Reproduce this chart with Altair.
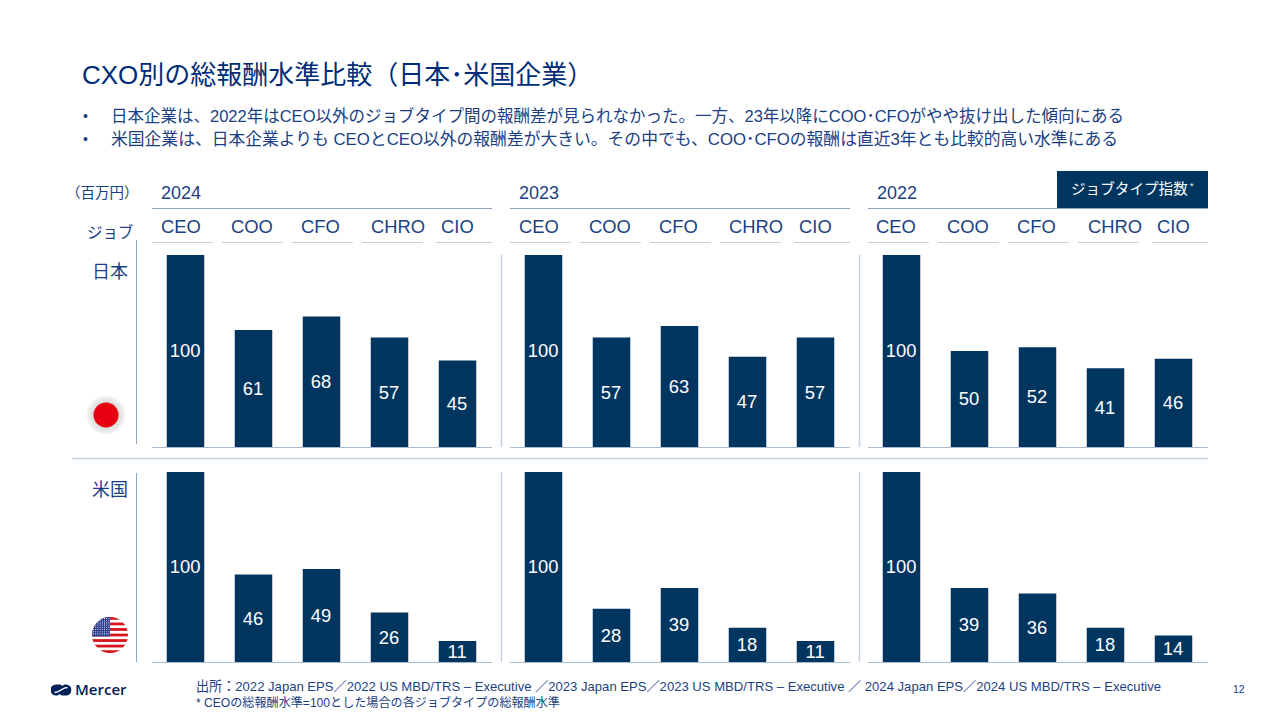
import urllib.parse
import altair as alt
import pandas as pd

years = ["2024", "2023", "2022"]
jobs = ["CEO", "COO", "CFO", "CHRO", "CIO"]
japan_2024 = [100, 61, 68, 57, 45]
japan_2023 = [100, 57, 63, 47, 57]
japan_2022 = [100, 50, 52, 41, 46]
us_2024 = [100, 46, 49, 26, 11]
us_2023 = [100, 28, 39, 18, 11]
us_2022 = [100, 39, 36, 18, 14]

title_text = "CXO別の総報酬水準比較（日本･米国企業）"
bullet_1 = "日本企業は、2022年はCEO以外のジョブタイプ間の報酬差が見られなかった。一方、23年以降にCOO･CFOがやや抜け出した傾向にある"
bullet_2 = "米国企業は、日本企業よりも CEOとCEO以外の報酬差が大きい。その中でも、COO･CFOの報酬は直近3年とも比較的高い水準にある"
foot_1 = "出所：2022 Japan EPS／2022 US MBD/TRS  – Executive ／2023 Japan EPS／2023 US MBD/TRS  – Executive ／ 2024 Japan EPS／2024 US MBD/TRS  – Executive"
foot_2 = "* CEOの総報酬水準=100とした場合の各ジョブタイプの総報酬水準"

NAVY = "#00355f"
INK = "#1b3f82"
RULE = "#8ba5c2"
LIGHT = "#c4d2e0"
BASE = "#a9bccf"
FONT = "Liberation Sans, Noto Sans CJK JP, sans-serif"
OFF = 8  # page margin: positions below are page pixels


def label(s, x, y, size=16, color=INK, align="left", font=FONT, weight="normal"):
    return alt.Chart(pd.DataFrame({"t": [s]})).mark_text(
        align=align, baseline="middle", fontSize=size, color=color, font=font, fontWeight=weight
    ).encode(x=alt.value(x - OFF), y=alt.value(y - OFF), text="t:N")


def hrule(x1, x2, y, color=RULE, w=1.0):
    return alt.Chart(pd.DataFrame({"a": [0]})).mark_rule(color=color, strokeWidth=w).encode(
        x=alt.value(x1 - OFF), x2=alt.value(x2 - OFF), y=alt.value(y - OFF))


def vrule(x, y1, y2, color=RULE, w=1.0):
    return alt.Chart(pd.DataFrame({"a": [0]})).mark_rule(color=color, strokeWidth=w).encode(
        x=alt.value(x - OFF), y=alt.value(y1 - OFF), y2=alt.value(y2 - OFF))


def svg_image(svg, x, y, w, h):
    uri = "data:image/svg+xml," + urllib.parse.quote(svg)
    return alt.Chart(alt.Data(values=[{"u": uri}])).mark_image(width=w, height=h).encode(
        x=alt.value(x - OFF), y=alt.value(y - OFF), url="u:N")


def panel(values, x0, y_bottom, y_top):
    df = pd.DataFrame({"job": jobs, "value": values})
    x = alt.X("job:N", axis=None, sort=jobs, scale=alt.Scale(
        domain=jobs, range=[x0 - OFF, x0 + 340 - OFF], paddingInner=30 / 68, paddingOuter=15 / 68))
    scale_y = alt.Scale(domain=[0, 100], range=[y_bottom - OFF, y_top - OFF], nice=False)
    bars = alt.Chart(df).mark_bar(color=NAVY, size=37.5).encode(
        x=x, y=alt.Y("value:Q", axis=None, scale=scale_y))
    nums = alt.Chart(df).transform_calculate(mid="datum.value / 2").mark_text(
        color="white", fontSize=18.4, font=FONT, baseline="middle", dy=0.3, dx=-0.4
    ).encode(x=x, y=alt.Y("mid:Q", axis=None, scale=scale_y), text="value:Q")
    return [bars, nums]


layers = []
# title and bullets
layers += [label(title_text, 82, 76, size=26, color="#002c77")]
layers += [label("•", 83, 117, 14), label(bullet_1, 111, 117, 16.5),
           label("•", 83, 140, 14), label(bullet_2, 111, 140, 16.8)]

# header
layers += [label("（百万円）", 66, 194, 14.5), label("ジョブ", 87, 233, 15.5)]
starts = [152, 510, 868]
for yr, s in zip(years, starts):
    layers += [label(yr, s + 9, 194, 18), hrule(s, s + 340, 208.5)]
job_x = {152: [161, 231, 301, 371, 441], 510: [519, 589, 659, 729, 799], 868: [876, 947, 1017, 1088, 1157]}
seg = [(0, 61), (70, 131), (140, 201), (210, 271), (284, 340)]
for s in starts:
    for j, jx, (a, b) in zip(jobs, job_x[s], seg):
        layers += [label(j, jx, 227, 18.4), hrule(s + a, s + b, 242.5, LIGHT, 1.2)]

# job type index badge
badge = pd.DataFrame({"a": [0]})
layers += [alt.Chart(badge).mark_rect(color=NAVY).encode(
    x=alt.value(1057 - OFF), x2=alt.value(1208 - OFF), y=alt.value(171 - OFF), y2=alt.value(208 - OFF))]
layers += [label("ジョブタイプ指数", 1071, 190, 14.6, "white"), label("*", 1190, 186, 9, "white")]

# country labels and axes lines
layers += [label("日本", 92, 272.5, 18), label("米国", 92, 490.5, 18)]
layers += [vrule(136.5, 240, 444), vrule(136.5, 473, 662)]
layers += [vrule(501.5, 255, 447, LIGHT, 1.5), vrule(859.5, 255, 447, LIGHT, 1.5),
           vrule(501.5, 472, 662, LIGHT, 1.5), vrule(859.5, 472, 662, LIGHT, 1.5)]
layers += [hrule(72, 1208, 458.5, LIGHT, 1.5)]
for s in starts:
    layers += [hrule(s, s + 340, 447.5, BASE, 1.2), hrule(s, s + 340, 662.5, BASE, 1.2)]

# bars
for vals, s in zip([japan_2024, japan_2023, japan_2022], [151.5, 509.5, 867.5]):
    layers += panel(vals, s, 447, 255)
for vals, s in zip([us_2024, us_2023, us_2022], [151.5, 509.5, 867.5]):
    layers += panel(vals, s, 662, 472)

# flags
jp_svg = ('<svg xmlns="http://www.w3.org/2000/svg" width="40" height="40" viewBox="0 0 40 40">'
          '<defs><radialGradient id="g"><stop offset="60%" stop-color="#d8d8d8"/><stop offset="100%" stop-color="#f6f6f6"/></radialGradient></defs>'
          '<circle cx="20" cy="20" r="19.5" fill="url(#g)"/><circle cx="20" cy="20" r="12.5" fill="#e60012"/></svg>')
stripes = "".join(f'<rect x="0" y="{i * 36 / 13:.2f}" width="36" height="{36 / 13:.2f}" fill="#d7141a"/>' for i in range(0, 13, 2))
stars = "".join(f'<circle cx="{1.5 + c * 2.2:.1f}" cy="{1.5 + r * 2.2:.1f}" r=".55" fill="#fff"/>' for r in range(8) for c in range(8))
us_svg = ('<svg xmlns="http://www.w3.org/2000/svg" width="36" height="36" viewBox="0 0 36 36">'
          '<defs><clipPath id="c"><circle cx="18" cy="18" r="18"/></clipPath></defs><g clip-path="url(#c)">'
          '<rect width="36" height="36" fill="#fff"/>' + stripes +
          '<rect width="18" height="19.4" fill="#2a3a8c"/>' + stars + '</g></svg>')
layers += [svg_image(jp_svg, 106, 415, 40, 40), svg_image(us_svg, 110, 635, 36, 36)]

# logo: a rounded pill split by a white S-curve
logo_svg = ('<svg xmlns="http://www.w3.org/2000/svg" width="21" height="12" viewBox="0 0 21 12">'
            '<rect x="0" y="0.5" width="21" height="11" rx="5.5" fill="#00205b"/>'
            '<path d="M4 8.5 Q7 8.5 10.5 6 Q14 3.5 17 3.5" stroke="#fff" stroke-width="1.5" fill="none"/>'
            '<path d="M9.5 0 L12 2 L14 0 Z M7 12 L9 10 L11.5 12 Z" fill="#fff"/>'
            '</svg>')
layers += [svg_image(logo_svg, 61, 690, 21, 12),
           label("Mercer", 75, 690, 15, "#00205b", font="Open Sans", weight=600)]

# footer
layers += [label(foot_1, 196, 687, 13.1), label(foot_2, 196, 703, 12.1), label("12", 1233, 690, 10.5)]

chart = alt.layer(*layers).resolve_scale(x="independent", y="independent").properties(
    width=1264, height=702, padding=0, autosize=alt.AutoSizeParams(type="none"), background="white"
).configure_view(stroke=None)

chart.save("out.html", embed_options={"renderer": "svg", "actions": False})
